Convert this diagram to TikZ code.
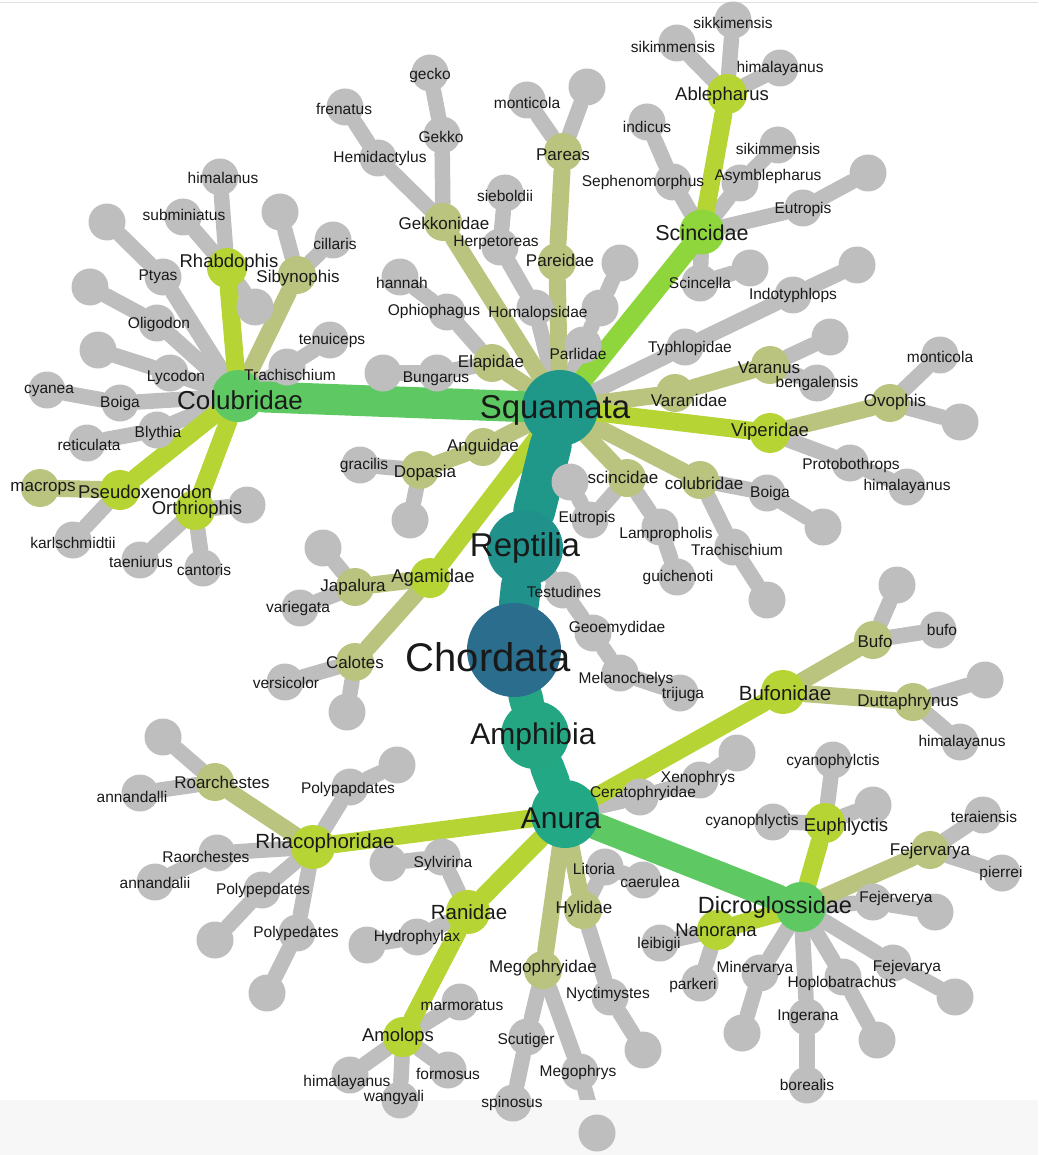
\documentclass[tikz,border=0pt]{standalone}
\usepackage{fontspec}
\setmainfont{Liberation Sans}
\definecolor{cgray}{RGB}{190,190,190}
\definecolor{colive}{RGB}{186,196,126}
\definecolor{clime}{RGB}{182,213,52}
\definecolor{cbright}{RGB}{143,214,60}
\definecolor{cgreen}{RGB}{94,201,98}
\definecolor{csquam}{RGB}{31,152,138}
\definecolor{crept}{RGB}{33,145,140}
\definecolor{cchord}{RGB}{42,109,140}
\definecolor{camph}{RGB}{36,166,130}
\definecolor{canura}{RGB}{34,168,132}
\definecolor{cink}{RGB}{25,25,25}
\pgfdeclarelayer{links}
\pgfdeclarelayer{names}
\pgfsetlayers{links,main,names}
\tikzset{
  taxon/.style={circle, inner sep=0pt, draw=none},
  leafnode/.style={taxon, fill=cgray, minimum size=37},
  olivenode/.style={taxon, fill=colive, minimum size=38},
  limenode/.style={taxon, fill=clime, minimum size=40},
  famnode/.style={taxon, fill=clime, minimum size=44},
  scincnode/.style={taxon, fill=cbright, minimum size=45},
  colubnode/.style={taxon, fill=cgreen, minimum size=52},
  dicronode/.style={taxon, fill=cgreen, minimum size=50},
  squamnode/.style={taxon, fill=csquam, minimum size=76},
  reptnode/.style={taxon, fill=crept, minimum size=76},
  chordnode/.style={taxon, fill=cchord, minimum size=94},
  amphnode/.style={taxon, fill=camph, minimum size=68},
  anuranode/.style={taxon, fill=canura, minimum size=68},
  taxlabel/.style={inner sep=0pt, text=cink},
  leafnode text/.style={taxlabel, font=\fontsize{15.5}{16}\selectfont},
  olivenode text/.style={taxlabel, font=\fontsize{17}{18}\selectfont},
  limenode text/.style={taxlabel, font=\fontsize{18.5}{19}\selectfont},
  famnode text/.style={taxlabel, font=\fontsize{20.5}{21}\selectfont},
  scincnode text/.style={taxlabel, font=\fontsize{21.5}{22}\selectfont},
  colubnode text/.style={taxlabel, font=\fontsize{26}{27}\selectfont},
  dicronode text/.style={taxlabel, font=\fontsize{23.5}{24}\selectfont},
  squamnode text/.style={taxlabel, font=\fontsize{33}{34}\selectfont},
  reptnode text/.style={taxlabel, font=\fontsize{33}{34}\selectfont},
  chordnode text/.style={taxlabel, font=\fontsize{40}{41}\selectfont},
  amphnode text/.style={taxlabel, font=\fontsize{30}{31}\selectfont},
  anuranode text/.style={taxlabel, font=\fontsize{30}{31}\selectfont},
  lk/.style={line cap=round},
  lk leaf/.style={lk, line width=15.5, draw=cgray},
  lk olive/.style={lk, line width=17, draw=colive},
  lk lime/.style={lk, line width=18, draw=clime},
}
% style, name, circle position, label position, label
\newcommand\taxon[5]{%
  \node[#1] (#2) at (#3) {};
  \begin{pgfonlayer}{names}\node[#1 text] (#2-t) at (#4) {#5};\end{pgfonlayer}}
\begin{document}
\begin{tikzpicture}[x=1pt,y=-1pt]
\useasboundingbox (0,0) rectangle (1038,1155);
\fill[black!3] (0,1100) rectangle (1038,1155);
\draw[black!12, line width=1] (0,3) -- (1038,3);

% core
\taxon{chordnode}{Chordata}{514,650}{488,657}{Chordata}
\taxon{reptnode}{Reptilia}{525,548}{525,548}{Reptilia}
\taxon{squamnode}{Squamata}{560,408}{555,410}{Squamata}
\taxon{amphnode}{Amphibia}{535,735}{533,737}{Amphibia}
\taxon{anuranode}{Anura}{565,814}{561,818}{Anura}

% Squamata
\taxon{colubnode}{Colubridae}{238,396}{240,400}{Colubridae}
\taxon{olivenode}{Gekkonidae}{443,222}{444,223}{Gekkonidae}
\taxon{leafnode}{Hemidactylus}{378,158}{380,158}{Hemidactylus}
\taxon{leafnode}{frenatus}{345,107}{344,109}{frenatus}
\taxon{leafnode}{Gekko}{442,135}{441,137}{Gekko}
\taxon{leafnode}{gecko}{430,73}{430,75}{gecko}
\taxon{leafnode}{Homalopsidae}{535,308}{538,313}{Homalopsidae}
\taxon{leafnode}{Herpetoreas}{500,247}{496,243}{Herpetoreas}
\taxon{leafnode}{sieboldii}{505,193}{505,196}{sieboldii}
\taxon{olivenode}{Pareidae}{557,262}{560,260}{Pareidae}
\taxon{olivenode}{Pareas}{563,152}{563,155}{Pareas}
\taxon{leafnode}{monticolaA}{527,100}{527,103}{monticola}
\node[leafnode] (lPareas) at (587,87) {};
\taxon{leafnode}{Parlidae}{583,345}{578,354}{Parlidae}
\node[leafnode] (lParlA) at (600,308) {};
\node[leafnode] (lParlB) at (620,263) {};
\taxon{olivenode}{Elapidae}{492,363}{491,363}{Elapidae}
\taxon{leafnode}{Bungarus}{437,373}{436,379}{Bungarus}
\node[leafnode] (lBung) at (383,373) {};
\taxon{leafnode}{Ophiophagus}{447,312}{434,311}{Ophiophagus}
\taxon{leafnode}{hannah}{400,277}{402,283}{hannah}
\taxon{leafnode}{Typhlopidae}{685,347}{690,348}{Typhlopidae}
\taxon{leafnode}{Indotyphlops}{793,295}{793,295}{Indotyphlops}
\node[leafnode] (lIndo) at (857,265) {};
\taxon{scincnode}{Scincidae}{702,232}{702,233}{Scincidae}
\taxon{limenode}{Ablepharus}{727,94}{722,96}{Ablepharus}
\taxon{leafnode}{sikimmensisA}{677,43}{673,47}{sikimmensis}
\taxon{leafnode}{sikkimensis}{733,20}{733,23}{sikkimensis}
\taxon{leafnode}{himalayanusA}{780,68}{780,68}{himalayanus}
\taxon{leafnode}{Sephenomorphus}{673,182}{643,182}{Sephenomorphus}
\taxon{leafnode}{indicus}{647,122}{647,127}{indicus}
\taxon{leafnode}{Asymblepharus}{740,183}{768,176}{Asymblepharus}
\taxon{leafnode}{sikimmensisB}{778,145}{778,149}{sikimmensis}
\taxon{leafnode}{EutropisA}{803,208}{803,209}{Eutropis}
\node[leafnode] (lEutA) at (868,173) {};
\taxon{leafnode}{Scincella}{700,283}{700,283}{Scincella}
\node[leafnode] (lScinc) at (750,268) {};
\taxon{olivenode}{Varanidae}{675,393}{689,400}{Varanidae}
\taxon{olivenode}{Varanus}{770,365}{769,368}{Varanus}
\node[leafnode] (lVar) at (830,337) {};
\taxon{leafnode}{bengalensis}{817,383}{817,383}{bengalensis}
\taxon{limenode}{Viperidae}{770,433}{770,432}{Viperidae}
\taxon{olivenode}{Ovophis}{890,403}{895,402}{Ovophis}
\taxon{leafnode}{monticolaB}{940,355}{940,357}{monticola}
\node[leafnode] (lOvo) at (960,422) {};
\taxon{leafnode}{Protobothrops}{850,463}{851,465}{Protobothrops}
\taxon{leafnode}{himalayanusB}{907,487}{907,486}{himalayanus}
\taxon{olivenode}{colubridaeB}{700,480}{704,483}{colubridae}
\taxon{leafnode}{BoigaB}{767,493}{770,493}{Boiga}
\node[leafnode] (lBoigaB) at (823,527) {};
\taxon{leafnode}{TrachischiumB}{733,547}{737,550}{Trachischium}
\node[leafnode] (lTrachB) at (767,600) {};
\taxon{olivenode}{scincidaeB}{627,478}{623,477}{scincidae}
\taxon{leafnode}{Lampropholis}{660,527}{666,534}{Lampropholis}
\taxon{leafnode}{guichenoti}{677,577}{678,577}{guichenoti}
\taxon{leafnode}{EutropisB}{590,520}{587,518}{Eutropis}
\node[leafnode] (lEutB) at (570,482) {};
\taxon{olivenode}{Anguidae}{483,447}{483,447}{Anguidae}
\taxon{olivenode}{Dopasia}{420,470}{425,473}{Dopasia}
\taxon{leafnode}{gracilis}{360,465}{364,465}{gracilis}
\node[leafnode] (lDop) at (410,520) {};
\taxon{limenode}{Agamidae}{430,578}{433,578}{Agamidae}
\taxon{olivenode}{Japalura}{355,587}{353,587}{Japalura}
\node[leafnode] (lJap) at (323,548) {};
\taxon{leafnode}{variegata}{300,608}{298,608}{variegata}
\taxon{olivenode}{Calotes}{355,662}{355,662}{Calotes}
\taxon{leafnode}{versicolor}{285,682}{286,683}{versicolor}
\node[leafnode] (lCal) at (347,712) {};

% Colubridae
\taxon{limenode}{Rhabdophis}{227,268}{229,263}{Rhabdophis}
\taxon{leafnode}{himalanus}{220,177}{223,178}{himalanus}
\taxon{leafnode}{subminiatus}{183,217}{184,215}{subminiatus}
\node[leafnode] (lRhab) at (255,307) {};
\taxon{olivenode}{Sibynophis}{297,275}{298,278}{Sibynophis}
\node[leafnode] (lSib) at (280,212) {};
\taxon{leafnode}{cillaris}{333,240}{335,244}{cillaris}
\taxon{leafnode}{TrachischiumA}{287,367}{290,375}{Trachischium}
\taxon{leafnode}{tenuiceps}{330,340}{332,340}{tenuiceps}
\taxon{leafnode}{Ptyas}{163,277}{158,277}{Ptyas}
\node[leafnode] (lPtyas) at (107,222) {};
\taxon{leafnode}{Oligodon}{157,323}{159,324}{Oligodon}
\node[leafnode] (lOlig) at (90,287) {};
\taxon{leafnode}{Lycodon}{170,373}{176,377}{Lycodon}
\node[leafnode] (lLyc) at (98,350) {};
\taxon{leafnode}{BoigaA}{120,403}{120,403}{Boiga}
\taxon{leafnode}{cyanea}{47,390}{49,391}{cyanea}
\taxon{leafnode}{Blythia}{157,430}{158,433}{Blythia}
\taxon{leafnode}{reticulata}{87,443}{89,445}{reticulata}
\taxon{limenode}{Pseudoxenodon}{120,490}{145,492}{Pseudoxenodon}
\taxon{olivenode}{macrops}{40,488}{43,489}{macrops}
\taxon{leafnode}{karlschmidtii}{73,540}{73,543}{karlschmidtii}
\taxon{limenode}{Orthriophis}{195,510}{197,510}{Orthriophis}
\node[leafnode] (lOrth) at (247,505) {};
\taxon{leafnode}{taeniurus}{140,560}{141,562}{taeniurus}
\taxon{leafnode}{cantoris}{203,568}{204,570}{cantoris}

% Testudines
\taxon{leafnode}{Testudines}{563,590}{564,592}{Testudines}
\taxon{leafnode}{Geoemydidae}{593,633}{617,628}{Geoemydidae}
\taxon{leafnode}{Melanochelys}{620,673}{626,679}{Melanochelys}
\taxon{leafnode}{trijuga}{680,693}{683,694}{trijuga}

% Anura
\taxon{famnode}{Bufonidae}{783,692}{785,693}{Bufonidae}
\taxon{olivenode}{Bufo}{873,640}{875,641}{Bufo}
\node[leafnode] (lBufo) at (897,585) {};
\taxon{leafnode}{bufo}{938,630}{942,630}{bufo}
\taxon{olivenode}{Duttaphrynus}{913,702}{908,702}{Duttaphrynus}
\node[leafnode] (lDutt) at (985,680) {};
\taxon{leafnode}{himalayanusC}{960,742}{962,742}{himalayanus}
\taxon{leafnode}{Ceratophryidae}{640,797}{643,793}{Ceratophryidae}
\taxon{leafnode}{Xenophrys}{700,780}{698,778}{Xenophrys}
\node[leafnode] (lXeno) at (737,753) {};
\taxon{dicronode}{Dicroglossidae}{801,907}{775,907}{Dicroglossidae}
\taxon{limenode}{Euphlyctis}{825,823}{846,827}{Euphlyctis}
\taxon{leafnode}{cyanophylctis}{833,760}{833,761}{cyanophylctis}
\node[leafnode] (lEuph) at (873,805) {};
\taxon{leafnode}{cyanophlyctis}{773,822}{752,821}{cyanophlyctis}
\taxon{olivenode}{Fejervarya}{930,850}{930,851}{Fejervarya}
\taxon{leafnode}{teraiensis}{983,815}{984,817}{teraiensis}
\taxon{leafnode}{pierrei}{1002,873}{1001,873}{pierrei}
\taxon{leafnode}{Fejerverya}{873,902}{896,898}{Fejerverya}
\node[leafnode] (lFejer) at (935,912) {};
\taxon{leafnode}{Fejevarya}{893,963}{907,967}{Fejevarya}
\node[leafnode] (lFejev) at (955,997) {};
\taxon{leafnode}{Hoplobatrachus}{843,977}{842,983}{Hoplobatrachus}
\node[leafnode] (lHoplo) at (877,1040) {};
\taxon{leafnode}{Ingerana}{807,1017}{808,1017}{Ingerana}
\taxon{leafnode}{borealis}{807,1085}{807,1085}{borealis}
\taxon{leafnode}{Minervarya}{760,973}{755,968}{Minervarya}
\node[leafnode] (lMinerv) at (742,1033) {};
\taxon{limenode}{Nanorana}{717,930}{716,930}{Nanorana}
\taxon{leafnode}{leibigii}{660,943}{659,944}{leibigii}
\taxon{leafnode}{parkeri}{700,983}{693,985}{parkeri}
\taxon{olivenode}{Hylidae}{583,910}{584,909}{Hylidae}
\taxon{leafnode}{Litoria}{605,867}{594,869}{Litoria}
\taxon{leafnode}{caerulea}{643,880}{650,882}{caerulea}
\taxon{leafnode}{Nyctimystes}{610,997}{608,994}{Nyctimystes}
\node[leafnode] (lNyct) at (643,1050) {};
\taxon{olivenode}{Megophryidae}{543,970}{543,968}{Megophryidae}
\taxon{leafnode}{Scutiger}{527,1037}{526,1040}{Scutiger}
\taxon{leafnode}{spinosus}{513,1103}{512,1103}{spinosus}
\taxon{leafnode}{Megophrys}{580,1072}{578,1072}{Megophrys}
\node[leafnode] (lMegoph) at (597,1133) {};
\taxon{famnode}{Ranidae}{468,912}{469,912}{Ranidae}
\taxon{leafnode}{Sylvirina}{442,857}{443,863}{Sylvirina}
\node[leafnode] (lSylv) at (388,863) {};
\taxon{leafnode}{Hydrophylax}{417,937}{417,937}{Hydrophylax}
\node[leafnode] (lHydro) at (367,945) {};
\taxon{limenode}{Amolops}{403,1037}{398,1037}{Amolops}
\taxon{leafnode}{marmoratus}{460,1002}{462,1006}{marmoratus}
\taxon{leafnode}{formosus}{448,1070}{448,1074}{formosus}
\taxon{leafnode}{wangyali}{400,1100}{394,1097}{wangyali}
\taxon{leafnode}{himalayanusD}{350,1075}{347,1082}{himalayanus}
\taxon{famnode}{Rhacophoridae}{313,847}{325,843}{Rhacophoridae}
\taxon{olivenode}{Roarchestes}{215,782}{222,782}{Roarchestes}
\node[leafnode] (lRoar) at (163,737) {};
\taxon{leafnode}{annandalli}{140,793}{132,797}{annandalli}
\taxon{leafnode}{Raorchestes}{217,853}{206,857}{Raorchestes}
\taxon{leafnode}{annandalii}{155,882}{155,883}{annandalii}
\taxon{leafnode}{Polypapdates}{350,787}{348,789}{Polypapdates}
\node[leafnode] (lPpap) at (397,765) {};
\taxon{leafnode}{Polypepdates}{262,890}{263,890}{Polypepdates}
\node[leafnode] (lPpep) at (215,940) {};
\taxon{leafnode}{Polypedates}{297,933}{296,933}{Polypedates}
\node[leafnode] (lPped) at (267,993) {};

\begin{pgfonlayer}{links}
\foreach \a/\b in {Gekkonidae/Hemidactylus, Hemidactylus/frenatus, Gekkonidae/Gekko, Gekko/gecko,
  Squamata/Homalopsidae, Homalopsidae/Herpetoreas, Herpetoreas/sieboldii, Pareas/monticolaA, Pareas/lPareas,
  Squamata/Parlidae, Parlidae/lParlA, lParlA/lParlB, Elapidae/Bungarus, Bungarus/lBung,
  Elapidae/Ophiophagus, Ophiophagus/hannah, Squamata/Typhlopidae, Typhlopidae/Indotyphlops, Indotyphlops/lIndo,
  Ablepharus/sikimmensisA, Ablepharus/sikkimensis, Ablepharus/himalayanusA,
  Scincidae/Sephenomorphus, Sephenomorphus/indicus, Scincidae/Asymblepharus, Asymblepharus/sikimmensisB,
  Scincidae/EutropisA, EutropisA/lEutA, Scincidae/Scincella, Scincella/lScinc,
  Varanus/lVar, Varanus/bengalensis, Ovophis/monticolaB, Ovophis/lOvo,
  Viperidae/Protobothrops, Protobothrops/himalayanusB,
  colubridaeB/BoigaB, BoigaB/lBoigaB, colubridaeB/TrachischiumB, TrachischiumB/lTrachB,
  scincidaeB/Lampropholis, Lampropholis/guichenoti, scincidaeB/EutropisB, EutropisB/lEutB,
  Dopasia/gracilis, Dopasia/lDop, Japalura/lJap, Japalura/variegata, Calotes/versicolor, Calotes/lCal,
  Rhabdophis/himalanus, Rhabdophis/subminiatus, Rhabdophis/lRhab, Sibynophis/lSib, Sibynophis/cillaris,
  Colubridae/TrachischiumA, TrachischiumA/tenuiceps, Colubridae/Ptyas, Ptyas/lPtyas,
  Colubridae/Oligodon, Oligodon/lOlig, Colubridae/Lycodon, Lycodon/lLyc, Colubridae/BoigaA, BoigaA/cyanea,
  Colubridae/Blythia, Blythia/reticulata, Pseudoxenodon/karlschmidtii,
  Orthriophis/lOrth, Orthriophis/taeniurus, Orthriophis/cantoris,
  Reptilia/Testudines, Testudines/Geoemydidae, Geoemydidae/Melanochelys, Melanochelys/trijuga,
  Bufo/lBufo, Bufo/bufo, Duttaphrynus/lDutt, Duttaphrynus/himalayanusC,
  Anura/Ceratophryidae, Ceratophryidae/Xenophrys, Xenophrys/lXeno,
  Euphlyctis/cyanophylctis, Euphlyctis/lEuph, Euphlyctis/cyanophlyctis,
  Fejervarya/teraiensis, Fejervarya/pierrei, Dicroglossidae/Fejerverya, Fejerverya/lFejer,
  Dicroglossidae/Fejevarya, Fejevarya/lFejev, Dicroglossidae/Hoplobatrachus, Hoplobatrachus/lHoplo,
  Dicroglossidae/Ingerana, Ingerana/borealis, Dicroglossidae/Minervarya, Minervarya/lMinerv,
  Nanorana/leibigii, Nanorana/parkeri, Hylidae/Litoria, Litoria/caerulea, Hylidae/Nyctimystes, Nyctimystes/lNyct,
  Megophryidae/Scutiger, Scutiger/spinosus, Megophryidae/Megophrys, Megophrys/lMegoph,
  Ranidae/Sylvirina, Sylvirina/lSylv, Ranidae/Hydrophylax, Hydrophylax/lHydro,
  Amolops/marmoratus, Amolops/formosus, Amolops/wangyali, Amolops/himalayanusD,
  Roarchestes/lRoar, Roarchestes/annandalli, Rhacophoridae/Raorchestes, Raorchestes/annandalii,
  Rhacophoridae/Polypapdates, Polypapdates/lPpap, Rhacophoridae/Polypepdates, Polypepdates/lPpep,
  Rhacophoridae/Polypedates, Polypedates/lPped}
  \draw[lk leaf] (\a) -- (\b);
\foreach \a/\b in {Squamata/Gekkonidae, Squamata/Pareidae, Pareidae/Pareas, Squamata/Elapidae,
  Squamata/Varanidae, Varanidae/Varanus, Viperidae/Ovophis, Squamata/colubridaeB, Squamata/scincidaeB,
  Squamata/Anguidae, Anguidae/Dopasia, Agamidae/Japalura, Agamidae/Calotes, Colubridae/Sibynophis,
  Pseudoxenodon/macrops, Bufonidae/Bufo, Bufonidae/Duttaphrynus, Dicroglossidae/Fejervarya,
  Anura/Hylidae, Anura/Megophryidae, Rhacophoridae/Roarchestes}
  \draw[lk olive] (\a) -- (\b);
\foreach \a/\b in {Squamata/Viperidae, Squamata/Agamidae, Scincidae/Ablepharus, Colubridae/Rhabdophis,
  Colubridae/Pseudoxenodon, Colubridae/Orthriophis, Anura/Bufonidae, Anura/Rhacophoridae,
  Anura/Ranidae, Ranidae/Amolops, Dicroglossidae/Euphlyctis, Dicroglossidae/Nanorana}
  \draw[lk lime] (\a) -- (\b);
\draw[lk, line width=20, draw=cbright] (Squamata) -- (Scincidae);
\draw[lk, line width=31, draw=cgreen] (Squamata) -- (Colubridae);
\draw[lk, line width=27, draw=cgreen] (Anura) -- (Dicroglossidae);
\draw[lk, line width=42, draw=csquam] (Reptilia) -- (Squamata);
\draw[lk, line width=40, draw=crept] (Chordata) -- (Reptilia);
\draw[lk, line width=34, draw=camph] (Chordata) -- (Amphibia);
\draw[lk, line width=34, draw=canura] (Amphibia) -- (Anura);
\end{pgfonlayer}
\end{tikzpicture}
\end{document}
